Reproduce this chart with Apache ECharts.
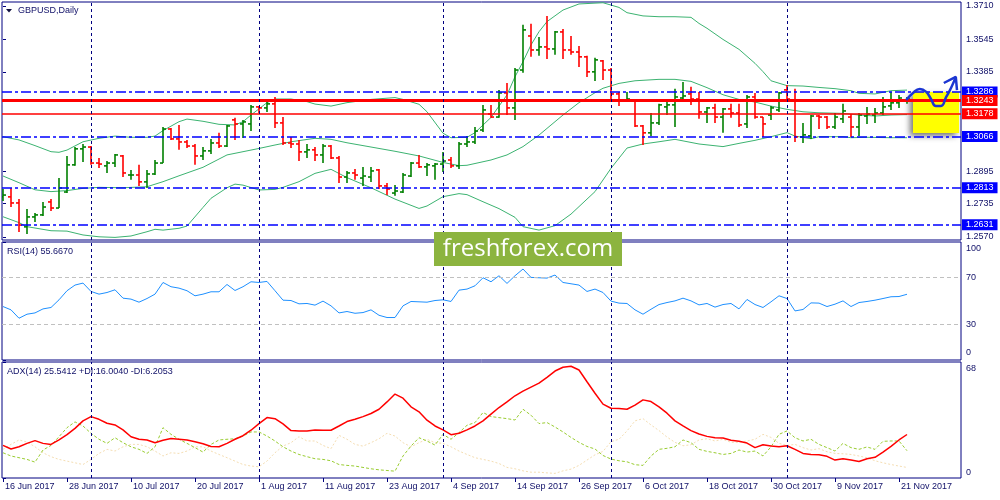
<!DOCTYPE html>
<html><head><meta charset="utf-8">
<script src="https://cdn.jsdelivr.net/npm/echarts@6/dist/echarts.min.js"></script>
<style>html,body{margin:0;padding:0;background:#fff}#c{width:1000px;height:500px}</style>
</head><body><div id="c"></div><script>
// ---------- DATA ----------
const xTickLabels = ['16 Jun 2017','28 Jun 2017','10 Jul 2017','20 Jul 2017','1 Aug 2017','11 Aug 2017','23 Aug 2017','4 Sep 2017','14 Sep 2017','26 Sep 2017','6 Oct 2017','18 Oct 2017','30 Oct 2017','9 Nov 2017','21 Nov 2017'];
const barsPerLabel = 8;
const monthStartBars = [11, 32, 55, 76, 98]; // first trading day of Jul, Aug, Sep, Oct, Nov
const priceTicks = [1.3710, 1.3545, 1.3385, 1.2895, 1.2735, 1.2570];
const rsiTicks = [0, 30, 70, 100];
const rsiLevels = [70, 30];
const adxTicks = [0, 68];
// [open, high, low, close]
const ohlc = [
[1.2768,1.2807,1.2748,1.2777],[1.2768,1.2812,1.2718,1.2738],[1.2738,1.2758,1.2595,1.2629],[1.2620,1.2708,1.2585,1.2669],
[1.2669,1.2689,1.2644,1.2679],[1.2679,1.2743,1.2674,1.2718],[1.2743,1.2758,1.2698,1.2713],[1.2713,1.2861,1.2713,1.2812],
[1.2792,1.2970,1.2787,1.2926],[1.2926,1.3014,1.2921,1.3005],[1.3005,1.3029,1.2940,1.3014],[1.3014,1.3019,1.2926,1.2935],
[1.2935,1.2960,1.2911,1.2930],[1.2921,1.2945,1.2886,1.2935],[1.2935,1.2980,1.2916,1.2975],[1.2970,1.2975,1.2866,1.2886],
[1.2876,1.2901,1.2852,1.2876],[1.2876,1.2926,1.2822,1.2842],[1.2842,1.2901,1.2812,1.2881],[1.2881,1.2950,1.2876,1.2935],
[1.2935,1.3113,1.2935,1.3103],[1.3103,1.3108,1.3049,1.3054],[1.3054,1.3123,1.3000,1.3039],[1.3039,1.3049,1.3009,1.3019],
[1.3019,1.3029,1.2926,1.2970],[1.2970,1.3014,1.2950,1.2995],[1.2995,1.3054,1.2980,1.3034],[1.3034,1.3084,1.3009,1.3019],
[1.3019,1.3123,1.3014,1.3118],[1.3148,1.3158,1.3049,1.3128],[1.3128,1.3148,1.3059,1.3138],[1.3128,1.3222,1.3093,1.3212],
[1.3212,1.3217,1.3182,1.3207],[1.3207,1.3251,1.3187,1.3227],[1.3227,1.3261,1.3108,1.3133],[1.3133,1.3162,1.3024,1.3034],
[1.3034,1.3064,1.3009,1.3029],[1.3029,1.3049,1.2945,1.2990],[1.2990,1.3029,1.2960,1.3000],[1.3000,1.3014,1.2945,1.2975],
[1.2975,1.3029,1.2935,1.3019],[1.3019,1.3024,1.2955,1.2960],[1.2960,1.2970,1.2837,1.2866],[1.2866,1.2896,1.2837,1.2886],
[1.2886,1.2906,1.2852,1.2876],[1.2861,1.2916,1.2822,1.2871],[1.2866,1.2916,1.2842,1.2896],[1.2901,1.2906,1.2807,1.2822],
[1.2822,1.2837,1.2777,1.2807],[1.2787,1.2827,1.2773,1.2797],[1.2792,1.2886,1.2787,1.2876],[1.2871,1.2940,1.2866,1.2935],
[1.2935,1.2975,1.2911,1.2916],[1.2916,1.2935,1.2871,1.2926],[1.2921,1.2935,1.2852,1.2930],[1.2930,1.2990,1.2891,1.2945],
[1.2950,1.2965,1.2911,1.2921],[1.2921,1.3039,1.2906,1.3029],[1.3029,1.3069,1.3014,1.3039],[1.3039,1.3113,1.3029,1.3093],
[1.3098,1.3222,1.3088,1.3197],[1.3177,1.3222,1.3158,1.3162],[1.3162,1.3296,1.3158,1.3281],[1.3281,1.3330,1.3172,1.3207],
[1.3207,1.3404,1.3148,1.3394],[1.3394,1.3617,1.3380,1.3592],[1.3562,1.3622,1.3459,1.3493],[1.3493,1.3557,1.3464,1.3508],
[1.3508,1.3661,1.3449,1.3498],[1.3498,1.3587,1.3469,1.3582],[1.3582,1.3597,1.3449,1.3493],[1.3493,1.3562,1.3469,1.3483],
[1.3483,1.3513,1.3409,1.3459],[1.3459,1.3464,1.3360,1.3385],[1.3385,1.3454,1.3340,1.3444],[1.3439,1.3444,1.3345,1.3394],
[1.3394,1.3404,1.3246,1.3276],[1.3276,1.3286,1.3217,1.3246],[1.3241,1.3286,1.3237,1.3251],[1.3246,1.3251,1.3113,1.3118],
[1.3118,1.3123,1.3024,1.3084],[1.3084,1.3182,1.3069,1.3133],[1.3133,1.3227,1.3123,1.3222],[1.3212,1.3246,1.3172,1.3222],
[1.3222,1.3301,1.3113,1.3261],[1.3256,1.3335,1.3246,1.3266],[1.3276,1.3311,1.3222,1.3251],[1.3251,1.3286,1.3153,1.3187],
[1.3187,1.3212,1.3133,1.3207],[1.3207,1.3227,1.3133,1.3162],[1.3162,1.3207,1.3084,1.3202],[1.3202,1.3227,1.3158,1.3182],
[1.3182,1.3227,1.3113,1.3123],[1.3128,1.3271,1.3108,1.3261],[1.3261,1.3281,1.3153,1.3162],[1.3162,1.3162,1.3064,1.3128],
[1.3172,1.3217,1.3148,1.3207],[1.3197,1.3286,1.3187,1.3281],[1.3296,1.3320,1.3241,1.3251],[1.3246,1.3301,1.3039,1.3064],
[1.3064,1.3133,1.3034,1.3074],[1.3069,1.3172,1.3054,1.3167],[1.3167,1.3172,1.3103,1.3162],[1.3162,1.3167,1.3103,1.3113],
[1.3113,1.3182,1.3103,1.3162],[1.3153,1.3227,1.3133,1.3192],[1.3162,1.3177,1.3064,1.3113],[1.3113,1.3182,1.3069,1.3172],
[1.3167,1.3212,1.3128,1.3177],[1.3172,1.3207,1.3133,1.3182],[1.3182,1.3261,1.3172,1.3212],[1.3217,1.3286,1.3197,1.3232],
[1.3232,1.3271,1.3207,1.3256],[1.3246,1.3261,1.3227,1.3251]
];
// Bollinger bands: [bar, price]
const bbUpper = [[0,1.3065],[2,1.3049],[4,1.3021],[6,1.2991],[7,1.2988],[8,1.2999],[10,1.3040],[12,1.3057],[14,1.3068],[16,1.3062],[18,1.3062],[19,1.3068],[20,1.3095],[22,1.3139],[23,1.3152],[25,1.3141],[27,1.3126],[29,1.3123],[30,1.3139],[31,1.3172],[33,1.3233],[34,1.3251],[36,1.3251],[38,1.3238],[39,1.3226],[41,1.3216],[43,1.3233],[46,1.3249],[49,1.3258],[50,1.3249],[52,1.3225],[53,1.3188],[55,1.3082],[56,1.3060],[58,1.3062],[59,1.3085],[61,1.3160],[62,1.3216],[63,1.3271],[64,1.3361],[65,1.3435],[66,1.3518],[67,1.3583],[68,1.3633],[70,1.3690],[72,1.3720],[75,1.3726],[77,1.3703],[78,1.3677],[80,1.3661],[82,1.3657],[84,1.3657],[86,1.3654],[87,1.3624],[88,1.3600],[90,1.3545],[92,1.3496],[94,1.3427],[95,1.3386],[96,1.3341],[98,1.3317],[100,1.3315],[102,1.3308],[104,1.3302],[106,1.3292],[107,1.3279],[109,1.3276],[111,1.3292],[113,1.3295]];
const bbMiddle = [[0,1.2871],[2,1.2838],[4,1.2803],[6,1.2794],[8,1.2799],[10,1.2810],[12,1.2815],[15,1.2813],[18,1.2818],[20,1.2843],[22,1.2872],[25,1.2914],[28,1.2975],[30,1.2991],[32,1.3007],[34,1.3024],[36,1.3040],[39,1.3057],[41,1.3052],[43,1.3035],[46,1.3014],[49,1.2993],[52,1.2970],[55,1.2938],[57,1.2922],[58,1.2924],[61,1.2950],[63,1.2975],[65,1.3016],[67,1.3073],[68,1.3106],[70,1.3172],[72,1.3233],[74,1.3282],[75,1.3304],[77,1.3328],[79,1.3341],[82,1.3348],[84,1.3348],[86,1.3338],[88,1.3307],[90,1.3272],[92,1.3249],[94,1.3236],[96,1.3216],[98,1.3200],[100,1.3188],[102,1.3183],[105,1.3180],[107,1.3172],[109,1.3167],[111,1.3172],[113,1.3174]];
const bbLower = [[0,1.2670],[2,1.2641],[3,1.2621],[6,1.2601],[8,1.2599],[10,1.2580],[12,1.2571],[14,1.2568],[16,1.2575],[18,1.2596],[19,1.2608],[20,1.2604],[22,1.2613],[23,1.2624],[25,1.2716],[26,1.2761],[28,1.2813],[29,1.2831],[30,1.2826],[32,1.2802],[34,1.2805],[35,1.2815],[37,1.2843],[39,1.2884],[41,1.2904],[43,1.2863],[46,1.2813],[49,1.2757],[52,1.2711],[53,1.2723],[55,1.2769],[57,1.2784],[58,1.2779],[60,1.2744],[62,1.2710],[64,1.2667],[65,1.2621],[67,1.2604],[69,1.2626],[71,1.2683],[74,1.2794],[76,1.2909],[78,1.3009],[80,1.3029],[82,1.3040],[84,1.3052],[87,1.3029],[90,1.3016],[92,1.3032],[94,1.3047],[96,1.3065],[98,1.3085],[99,1.3068],[101,1.3055],[102,1.3065],[105,1.3065],[106,1.3060],[108,1.3062],[111,1.3060],[113,1.3060]];
const rsi = [45.3,42.5,35.4,38.8,39.9,43.3,44.5,51.0,58.7,63.5,
65.2,58.1,55.8,57.2,59.5,52.4,51.6,49.0,52.1,55.8,
65.7,62.1,60.9,58.7,54.4,55.8,57.8,57.8,64.0,58.9,
62.1,66.3,65.7,66.6,58.7,50.7,50.4,47.6,47.9,46.5,
49.9,45.9,39.9,41.1,39.6,40.2,42.5,37.9,36.0,36.0,
45.9,49.6,49.3,49.0,50.4,51.0,49.6,59.2,60.1,62.9,
69.7,66.3,71.4,64.9,71.4,77.1,70.0,69.7,69.4,72.0,
65.7,64.6,63.5,58.1,60.1,57.2,49.9,48.2,47.9,42.5,
38.8,43.0,47.0,48.7,50.1,52.4,50.1,46.7,47.9,44.8,
47.0,47.9,43.3,51.3,47.0,44.5,49.3,54.4,52.1,41.6,
42.8,48.4,48.2,45.3,47.3,50.1,45.3,48.7,49.6,50.7,
52.1,53.6,53.8,55.7];
const adx = [19.1,17.0,18.3,20.3,21.9,20.3,19.7,22.3,25.4,29.1,
33.5,36.0,34.4,32.1,31.1,28.2,24.2,22.7,22.3,20.7,
22.1,23.1,22.7,22.3,21.3,20.1,18.5,18.3,20.3,22.7,
24.8,28.0,31.9,35.4,34.8,31.7,27.8,27.6,27.6,28.2,
28.0,28.0,30.5,33.1,34.4,36.0,37.8,40.3,44.6,49.2,
46.8,41.7,38.8,33.9,30.5,28.2,25.4,26.2,28.2,30.5,
33.5,37.4,41.3,44.6,48.2,50.9,53.3,55.6,59.0,62.7,
64.9,65.5,63.3,56.4,49.7,43.3,40.9,40.7,40.3,42.7,
45.8,44.8,41.7,38.0,33.5,30.5,27.8,25.8,24.4,23.6,
23.4,22.1,21.5,20.5,17.8,19.5,18.7,18.3,18.9,16.8,
14.4,13.8,13.6,12.7,10.5,11.3,10.5,9.7,11.3,12.1,
15.2,18.5,22.3,25.5];
const plusDI = [14.8,12.9,11.9,10.9,9.3,16.4,19.1,24.2,29.5,32.9,
30.5,26.2,22.7,20.3,23.6,20.7,18.3,16.8,14.4,18.3,
29.5,25.6,22.7,20.3,17.8,15.2,19.7,22.3,22.7,23.0,
24.6,27.0,27.0,24.6,21.7,18.3,15.8,13.8,12.5,11.3,
10.9,10.1,7.9,7.4,7.0,6.2,5.4,4.8,4.4,4.0,
12.9,18.7,23.6,21.7,19.3,25.6,22.7,26.6,30.9,32.5,
38.4,36.0,35.4,34.8,34.0,40.3,36.8,31.9,32.5,29.9,
27.0,23.8,20.9,18.5,17.0,13.2,11.1,10.1,9.5,7.8,
7.4,12.9,16.8,17.4,18.3,22.3,20.7,16.8,15.6,14.8,
13.8,14.4,16.4,15.2,15.8,12.9,18.3,25.6,27.6,23.6,
21.7,22.7,19.7,17.8,15.8,20.3,17.8,16.8,18.2,16.8,
21.5,21.7,21.7,16.0];
const minusDI = [16.8,19.7,22.3,21.1,18.3,14.8,12.5,10.9,9.9,8.9,
7.9,10.9,14.4,16.8,15.8,18.3,19.7,19.7,18.3,15.8,
12.9,14.8,14.4,15.8,18.3,18.3,15.8,13.8,11.9,9.9,
7.9,7.0,6.6,9.9,14.8,18.7,20.7,24.2,21.7,21.7,
19.1,17.2,25.0,22.7,19.7,18.7,20.7,23.0,26.2,24.6,
20.7,18.3,20.7,22.7,20.7,20.3,18.3,15.8,13.8,11.9,
10.9,9.9,8.5,6.2,5.4,4.2,3.4,3.4,3.0,2.7,
4.2,5.2,7.4,10.5,13.6,15.6,21.3,22.7,27.6,33.5,
34.8,31.1,27.8,24.0,20.9,18.9,19.5,22.3,23.0,21.7,
22.7,20.9,20.9,21.7,22.7,25.6,23.8,20.3,19.1,19.7,
17.8,16.4,17.2,15.4,14.4,14.2,13.8,12.9,11.9,10.1,
8.9,7.9,7.0,6.2];
// drawn levels
const resistanceBlue = [1.3286, 1.3066, 1.2813, 1.2631];
const levelRedThick = 1.3243;
const levelRedThin = 1.3178;
const bidPrice = 1.3251;
// forecast annotation (bar, price)
const forecastBox = [[113.75, 1.3286], [119.5, 1.3083]];
const forecastPath = [[112.9,1.3246],[113.75,1.3281],[114.6,1.3300],[115.4,1.3286],[116.0,1.3251],[116.6,1.3217],[117.25,1.3217],[117.9,1.3261],[118.5,1.3305],[119.1,1.3360]];
const forecastHead = [[117.6,1.3330],[119.1,1.3360],[119.25,1.3295]];
const titleMain = 'GBPUSD,Daily';
const titleRSI = 'RSI(14) 55.6670';
const titleADX = 'ADX(14) 25.5412 +DI:16.0040 -DI:6.2053';
const brand = 'freshforex.com';

// ---------- STYLE ----------
const NAVY = '#000080', TXT = '#101068', FONT = 'Liberation Sans', FS = 9;
const UP = '#008000', DOWN = '#ff0000', BB = '#3cb371';
const xMin = -0.125, xMax = 119.75;
const tickIdx = xTickLabels.map((_, k) => k * barsPerLabel);

const chart = echarts.init(document.getElementById('c'), null, {renderer: 'canvas'});
const gridBase = {left: 2, width: 959, show: true, borderColor: NAVY, borderWidth: 1, containLabel: false};
const lbl = {color: TXT, fontFamily: FONT, fontSize: FS};

function xAx(k) {
  const o = {type: 'value', gridIndex: k, min: xMin, max: xMax, splitLine: {show: false}, axisLine: {show: false}};
  if (k < 2) { o.axisLabel = {show: false}; o.axisTick = {show: false}; }
  else {
    o.axisTick = {show: true, customValues: tickIdx, length: 4, lineStyle: {color: NAVY}};
    o.axisLabel = Object.assign({customValues: tickIdx, formatter: v => xTickLabels[Math.round(v / barsPerLabel)],
      align: 'left', margin: 4, padding: [0, 0, 0, 2]}, lbl);
  }
  return o;
}
const vSep = {silent: true, symbol: ['none', 'none'], animation: false, precision: 4, label: {show: false},
  lineStyle: {color: NAVY, type: [3, 3], width: 1}, data: monthStartBars.map(b => ({xAxis: b}))};

const boxLabel = (v, bg) => ({show: true, position: 'end', distance: 1, formatter: v.toFixed(4), backgroundColor: bg, color: '#fff', padding: [1, 4, 1, 4], fontFamily: FONT, fontSize: FS});
const levelData = [{yAxis: bidPrice, lineStyle: {color: '#c8c8c8', width: 1, type: 'solid'}, label: {show: false}}];
resistanceBlue.forEach(v => levelData.push({yAxis: v, lineStyle: {color: '#0000ff', width: 1.5, type: [10, 3, 3, 3]}, label: boxLabel(v, '#0000ff')}));
levelData.push({yAxis: levelRedThick, lineStyle: {color: '#ff0000', width: 3, type: 'solid'}, label: boxLabel(levelRedThick, '#ff0000')});
levelData.push({yAxis: levelRedThin, lineStyle: {color: '#ff0000', width: 1.5, type: 'solid'}, label: boxLabel(levelRedThin, '#ff0000')});

const option = {
  animation: false,
  backgroundColor: '#ffffff',
  grid: [
    Object.assign({top: 2, height: 238}, gridBase),
    Object.assign({top: 242, height: 118}, gridBase),
    Object.assign({top: 362, height: 116}, gridBase)
  ],
  xAxis: [xAx(0), xAx(1), xAx(2)],
  yAxis: [
    {type: 'value', gridIndex: 0, position: 'right', min: 1.25552, max: 1.37297, splitLine: {show: false}, axisLine: {show: false},
      axisTick: {show: true, customValues: priceTicks, length: 3, lineStyle: {color: NAVY}},
      axisLabel: Object.assign({customValues: priceTicks, formatter: v => v.toFixed(4), margin: 5}, lbl)},
    {type: 'value', gridIndex: 1, position: 'right', min: 0, max: 100, splitLine: {show: false}, axisLine: {show: false},
      axisTick: {show: true, customValues: rsiTicks, length: 3, lineStyle: {color: NAVY}},
      axisLabel: Object.assign({customValues: rsiTicks, margin: 5,
        formatter: v => v === 100 ? '{a|100}' : (v === 0 ? '{b|0}' : '{c|' + v + '}'),
        rich: {a: Object.assign({padding: [14, 0, 0, 0]}, lbl), b: Object.assign({padding: [0, 0, 14, 0]}, lbl), c: Object.assign({}, lbl)}}, lbl)},
    {type: 'value', gridIndex: 2, position: 'right', min: 0, max: 68, splitLine: {show: false}, axisLine: {show: false},
      axisTick: {show: true, customValues: adxTicks, length: 3, lineStyle: {color: NAVY}},
      axisLabel: Object.assign({customValues: adxTicks, margin: 5,
        formatter: v => v === 68 ? '{a|68}' : '{b|0}',
        rich: {a: Object.assign({padding: [14, 0, 0, 0]}, lbl), b: Object.assign({padding: [0, 0, 11, 0]}, lbl)}}, lbl)}
  ],
  series: [
    // forecast box
    {type: 'line', xAxisIndex: 0, yAxisIndex: 0, data: [[forecastBox[0][0], bidPrice]], symbol: 'none', lineStyle: {opacity: 0}, z: 1, silent: true,
      markArea: {silent: true, precision: 4, itemStyle: {color: '#ffff00', shadowBlur: 6, shadowColor: 'rgba(0,0,0,0.55)', shadowOffsetX: -3, shadowOffsetY: 3},
        data: [[{coord: forecastBox[0]}, {coord: forecastBox[1]}]]}},
    // bands
    {type: 'line', xAxisIndex: 0, yAxisIndex: 0, data: bbUpper, symbol: 'none', lineStyle: {color: BB, width: 1}, z: 2, silent: true},
    {type: 'line', xAxisIndex: 0, yAxisIndex: 0, data: bbMiddle, symbol: 'none', lineStyle: {color: BB, width: 1}, z: 2, silent: true},
    {type: 'line', xAxisIndex: 0, yAxisIndex: 0, data: bbLower, symbol: 'none', lineStyle: {color: BB, width: 1}, z: 2, silent: true},
    // levels
    {type: 'line', xAxisIndex: 0, yAxisIndex: 0, data: [[0, bidPrice]], symbol: 'none', lineStyle: {opacity: 0}, z: 3, silent: true,
      markLine: {silent: true, symbol: ['none', 'none'], animation: false, precision: 4, data: levelData}},
    // month separators
    {type: 'line', xAxisIndex: 0, yAxisIndex: 0, data: [[0, bidPrice]], symbol: 'none', lineStyle: {opacity: 0}, z: 2, silent: true, markLine: vSep},
    // OHLC bars
    {type: 'custom', xAxisIndex: 0, yAxisIndex: 0, z: 4, silent: true, clip: true,
      data: ohlc.map((d, i) => [i, d[0], d[1], d[2], d[3]]),
      encode: {x: 0, y: [1, 2, 3, 4]},
      renderItem: (params, api) => {
        const i = api.value(0), o = api.value(1), h = api.value(2), l = api.value(3), c = api.value(4);
        const ph = api.coord([i, h]), pl = api.coord([i, l]), po = api.coord([i, o]), pc = api.coord([i, c]);
        const x = Math.round(ph[0]);
        const st = {stroke: c >= o ? UP : DOWN, lineWidth: 1.6};
        return {type: 'group', children: [
          {type: 'line', shape: {x1: x, y1: ph[1], x2: x, y2: pl[1]}, style: st},
          {type: 'line', shape: {x1: x - 3, y1: po[1], x2: x, y2: po[1]}, style: st},
          {type: 'line', shape: {x1: x, y1: pc[1], x2: x + 3, y2: pc[1]}, style: st}
        ]};
      }},
    // forecast arrow
    {type: 'line', xAxisIndex: 0, yAxisIndex: 0, data: forecastPath, smooth: 0.5, symbol: 'none', lineStyle: {color: '#1c36d2', width: 2.5}, z: 6, silent: true},
    {type: 'line', xAxisIndex: 0, yAxisIndex: 0, data: forecastHead, symbol: 'none', lineStyle: {color: '#1c36d2', width: 2.5}, z: 6, silent: true},
    // RSI
    {type: 'line', xAxisIndex: 1, yAxisIndex: 1, data: rsi.map((v, i) => [i, v]), symbol: 'none', lineStyle: {color: '#1e90ff', width: 1}, z: 3, silent: true,
      markLine: {silent: true, symbol: ['none', 'none'], animation: false, precision: 4, label: {show: false},
        data: rsiLevels.map(v => ({yAxis: v, lineStyle: {color: '#c0c0c0', type: [4, 3], width: 1}})).concat(monthStartBars.map(b => ({xAxis: b, lineStyle: {color: NAVY, type: [3, 3], width: 1}})))}},
    // ADX
    {type: 'line', xAxisIndex: 2, yAxisIndex: 2, data: minusDI.map((v, i) => [i, v]), symbol: 'none', lineStyle: {color: '#f5deb3', width: 1, type: [2, 2]}, z: 2, silent: true, markLine: vSep},
    {type: 'line', xAxisIndex: 2, yAxisIndex: 2, data: plusDI.map((v, i) => [i, v]), symbol: 'none', lineStyle: {color: '#9acd32', width: 1, type: [3, 2]}, z: 3, silent: true},
    {type: 'line', xAxisIndex: 2, yAxisIndex: 2, data: adx.map((v, i) => [i, v]), symbol: 'none', lineStyle: {color: '#ff0000', width: 1.5}, z: 4, silent: true}
  ],
  graphic: [
    {type: 'polygon', shape: {points: [[6, 9], [12, 9], [9, 12.5]]}, style: {fill: '#101040'}, z: 50},
    {type: 'text', x: 18, y: 11, style: {text: titleMain, fill: TXT, font: FS + 'px "' + FONT + '"', verticalAlign: 'middle'}, z: 50},
    {type: 'text', x: 7, y: 252, style: {text: titleRSI, fill: TXT, font: FS + 'px "' + FONT + '"', verticalAlign: 'middle'}, z: 50},
    {type: 'text', x: 7, y: 372, style: {text: titleADX, fill: TXT, font: FS + 'px "' + FONT + '"', verticalAlign: 'middle'}, z: 50},
    {type: 'rect', shape: {x: 434, y: 232, width: 188, height: 34}, style: {fill: '#8cb43f'}, z: 60},
    {type: 'text', x: 528, y: 249, style: {text: brand, fill: '#ffffff', font: '24px "Open Sans"', align: 'center', verticalAlign: 'middle'}, z: 61}
  ]
};
chart.setOption(option);
</script></body></html>
